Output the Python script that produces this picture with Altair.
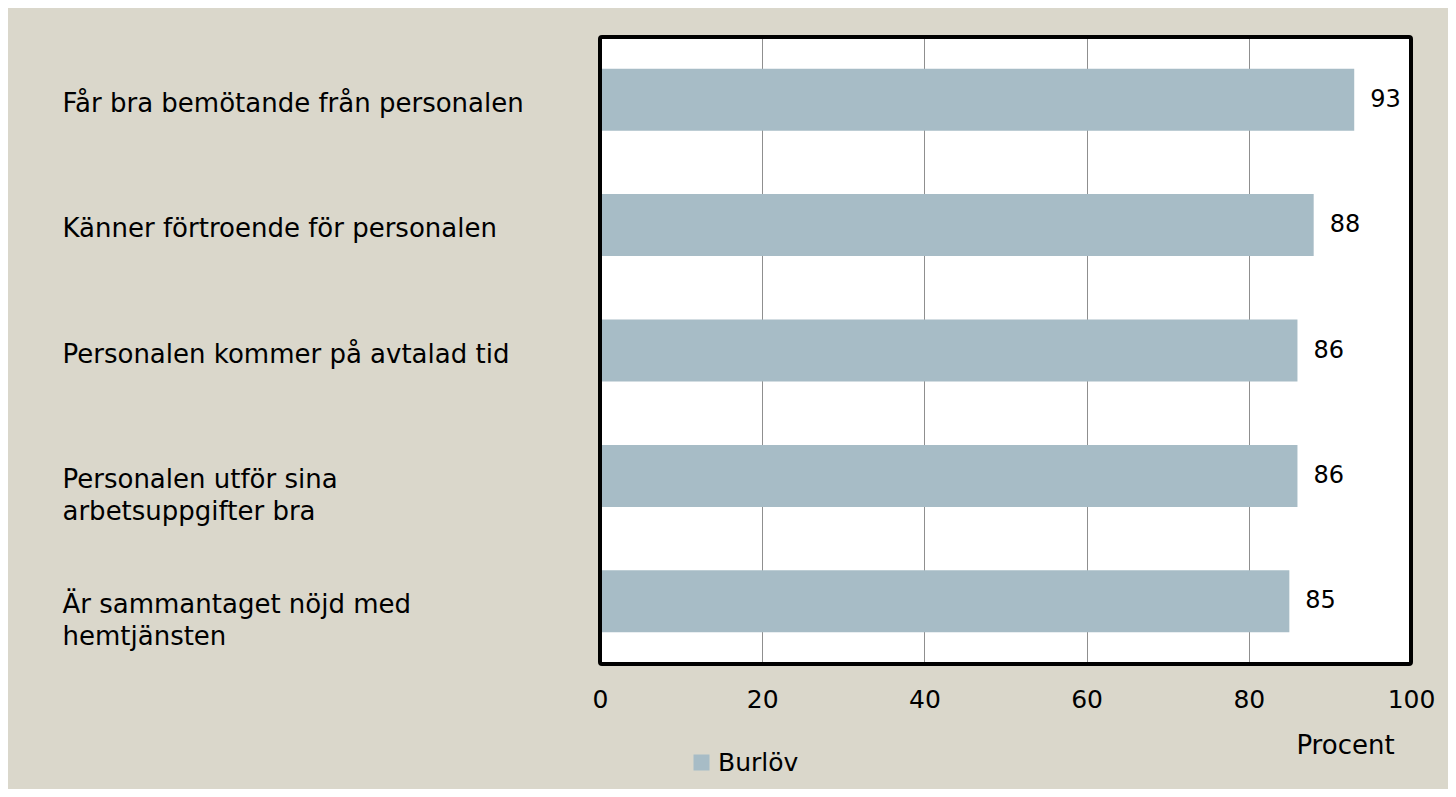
import altair as alt
import pandas as pd

categories = [
    "Får bra bemötande från personalen",
    "Känner förtroende för personalen",
    "Personalen kommer på avtalad tid",
    "Personalen utför sina|arbetsuppgifter bra",
    "Är sammantaget nöjd med|hemtjänsten",
]
values = [93, 88, 86, 86, 85]
series = ["Burlöv"] * len(categories)
x_ticks = [0, 20, 40, 60, 80, 100]

FONT = "Century Gothic, DejaVu Sans"
BAR = "#a7bcc6"
BG = "#dad7cb"

df = pd.DataFrame({"cat": categories, "val": values, "series": series})

y_enc = alt.Y(
    "cat:N",
    sort=categories,
    scale=alt.Scale(paddingInner=0.5, paddingOuter=0.25),
    axis=alt.Axis(
        title=None,
        domain=False,
        ticks=False,
        tickSize=0,
        labelAlign="left",
        labelBaseline="alphabetic",
        labelOffset=12,
        labelPadding=538,
        labelLimit=0,
        labelFont=FONT,
        labelFontSize=26,
        labelColor="black",
        labelLineHeight=32,
        labelExpr="split(datum.label, '|')",
    ),
)

x_enc = alt.X(
    "val:Q",
    scale=alt.Scale(domain=[0, 100], nice=False),
    axis=alt.Axis(
        values=x_ticks,
        title="Procent",
        titleX=745,
        titleY=81,
        titleAlign="center",
        titleBaseline="middle",
        titleFont=FONT,
        titleFontSize=26,
        titleFontWeight="normal",
        titleColor="black",
        domain=False,
        ticks=False,
        tickSize=0,
        labelFlush=False,
        labelOverlap=False,
        labelPadding=23,
        labelFont=FONT,
        labelFontSize=25,
        labelColor="black",
        grid=True,
        gridColor="#8f8f8f",
        gridWidth=1,
    ),
)

bars = alt.Chart(df).mark_bar(size=62).encode(
    x=x_enc,
    y=y_enc,
    color=alt.Color(
        "series:N",
        scale=alt.Scale(range=[BAR]),
        legend=alt.Legend(
            title=None,
            orient="none",
            legendX=89,
            legendY=713,
            padding=0,
            symbolType="square",
            symbolSize=256,
            symbolStrokeWidth=0,
            symbolOpacity=1,
            labelFont=FONT,
            labelFontSize=25,
            labelColor="black",
            labelOffset=4,
        ),
    ),
)

labels = alt.Chart(df).mark_text(
    align="left", baseline="middle", dx=16, font=FONT, fontSize=24, color="black"
).encode(
    x=alt.X("val:Q"),
    y=alt.Y("cat:N", sort=categories),
    text=alt.Text("val:Q"),
)

frame = alt.Chart(pd.DataFrame({"a": [0], "b": [100]})).mark_rect(
    fill=None, stroke="black", strokeWidth=4, cornerRadius=2
).encode(
    x=alt.X("a:Q"),
    x2="b:Q",
    y=alt.value(0),
    y2=alt.value(627),
)

chart = (
    alt.layer(bars, labels, frame)
    .properties(
        width=811,
        height=627,
        background=BG,
        padding={"left": 592, "top": 29, "right": 37, "bottom": 125},
        autosize=alt.AutoSizeParams(type="none"),
    )
    .configure_view(stroke=None, fill="white")
)

chart.save("out.html", embed_options={"renderer": "svg", "actions": False})
